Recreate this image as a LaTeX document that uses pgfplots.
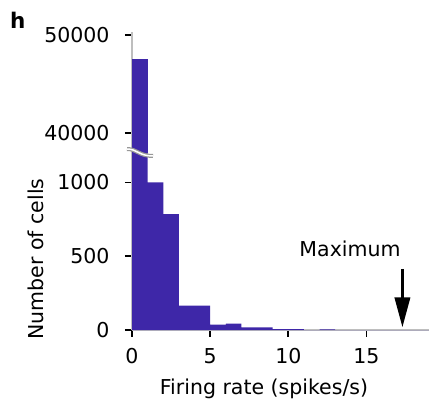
\documentclass[border=0pt]{standalone}
\usepackage{fontspec}
\setmainfont{DejaVu Sans}
\usepackage{pgfplots}
\pgfplotsset{compat=1.18}
\usetikzlibrary{arrows.meta}
\definecolor{barc}{RGB}{62,39,168}
\definecolor{spine}{RGB}{190,190,190}
\newcommand{\fs}{\fontsize{20.5bp}{24bp}\selectfont}
\pgfplotstableread{
x y
0 47550
1 1000
2 785
3 165
4 165
5 36
6 43
7 18
8 18
9 6
10 6
11 0
12 5
13 0
14 0
15 0
16 0
17 0
18 0
19 0
}\hist
\pgfplotstableread{
x y
0 47550
1 47550
}\histtop
\pgfplotsset{
  common/.style={
    scale only axis, width=297bp,
    xmin=0, xmax=19,
    tick label style={font=\fs},
    yticklabel style={xshift=-12bp},
    xticklabel style={yshift=-8bp},
    /pgf/number format/assume math mode=true,
    /pgf/number format/set thousands separator={},
    scaled ticks=false,
    clip=true,
  },
  finish/.style={
    axis line style={-, draw=spine, line width=2.5bp},
    tick align=outside,
    major tick length=7bp,
    tick style={black, line width=1.8bp},
    major tick style={black, line width=1.8bp},
  }
}
\begin{document}
\begin{tikzpicture}[x=1bp,y=1bp]
\useasboundingbox (0,0) rectangle (429,401);
% lower axis
\begin{axis}[common,
  at={(132bp,71bp)}, anchor=south west,
  height=177bp,
  ymin=0, ymax=1200,
  axis x line=bottom, axis y line=left,
  xtick={0,5,10,15}, ytick={0,500,1000},
  finish,
]
\addplot[ybar interval, fill=barc, draw=none] table[x=x,y=y] {\hist};
\draw[line width=3.5bp, -{Triangle[length=30bp,width=15bp]}] (axis cs:17.3,415) -- (axis cs:17.3,17);
\end{axis}
% upper axis
\begin{axis}[common,
  at={(132bp,248bp)}, anchor=south west,
  height=121bp,
  ymin=38000, ymax=50300,
  axis y line=left,
  hide x axis,
  ytick={40000,50000},
  finish,
]
\addplot[ybar interval, fill=barc, draw=none] table[x=x,y=y] {\histtop};
\end{axis}
% break marker
\draw[spine!80!black, line width=4bp] (127,252) .. controls (137,252) and (139,245) .. (153,245);
\draw[white, line width=1.5bp] (127,252) .. controls (137,252) and (139,245) .. (153,245);
% texts
\node[anchor=base, font=\fs, inner sep=0] at (350,144.3) {Maximum};
\node[anchor=base, font=\fs, inner sep=0] at (264,6.7) {Firing rate (spikes/s)};
\node[rotate=90, font=\fs, inner sep=0] at (36,142) {Number of cells};
\node[anchor=base west, font=\fontsize{21.5bp}{24bp}\selectfont\bfseries, inner sep=0] at (10,373) {h};
\end{tikzpicture}
\end{document}
